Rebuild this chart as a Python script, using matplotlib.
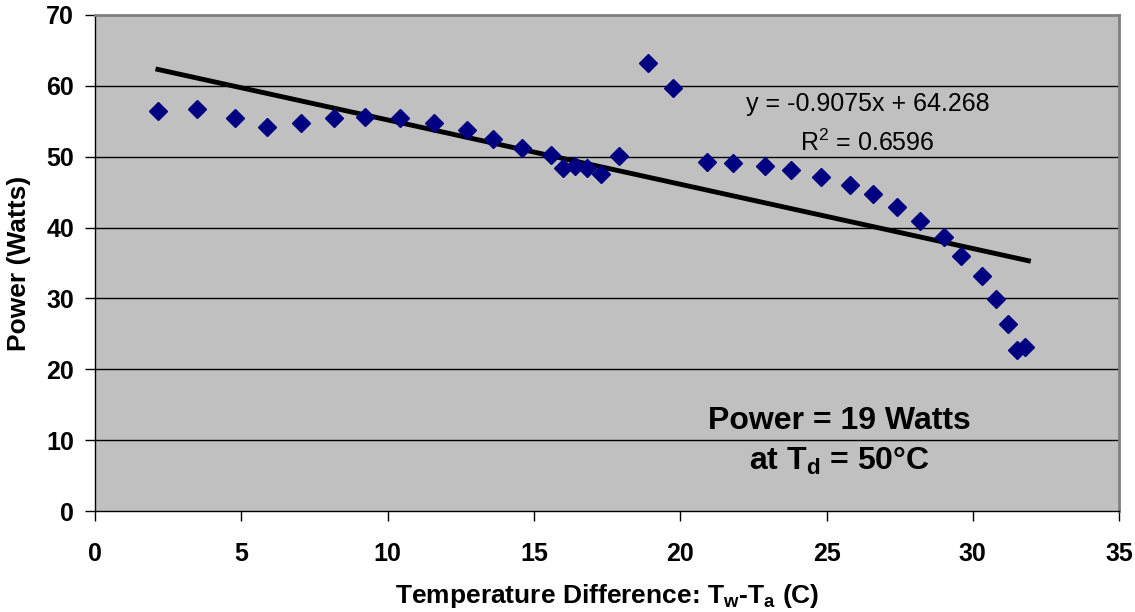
import matplotlib.pyplot as plt
import numpy as np

plt.rcParams['font.family'] = ['Liberation Sans', 'DejaVu Sans']
plt.rcParams['mathtext.fontset'] = 'custom'
plt.rcParams['mathtext.rm'] = 'Liberation Sans'
plt.rcParams['mathtext.bf'] = 'Liberation Sans:bold'
plt.rcParams['mathtext.it'] = 'Liberation Sans:italic'

# measured points
temp_diff = [2.15, 3.48, 4.78, 5.88, 7.04, 8.17, 9.22, 10.42, 11.6, 12.7, 13.6, 14.6,
             15.6, 16.0, 16.4, 16.8, 17.3, 17.9, 18.9, 19.75, 20.9, 21.8, 22.9, 23.8,
             24.8, 25.8, 26.6, 27.4, 28.2, 29.0, 29.6, 30.3, 30.8, 31.2, 31.5, 31.8]
power = [56.4, 56.8, 55.4, 54.2, 54.7, 55.4, 55.6, 55.4, 54.7, 53.7, 52.5, 51.3,
         50.2, 48.4, 48.7, 48.4, 47.5, 50.1, 63.2, 59.7, 49.2, 49.1, 48.7, 48.1,
         47.1, 46.0, 44.7, 42.9, 40.9, 38.6, 36.0, 33.1, 29.9, 26.4, 22.7, 23.1]

# linear trendline as given on the chart
slope = -0.9075
intercept = 64.268
r2 = 0.6596

x_ticks = [0, 5, 10, 15, 20, 25, 30, 35]
y_ticks = [0, 10, 20, 30, 40, 50, 60, 70]

fig = plt.figure(figsize=(11.35, 6.12), dpi=100)
ax = fig.add_axes([0.0837, 0.165, 0.9023, 0.8105])
ax.set_facecolor('#C0C0C0')

for yv in y_ticks[1:-1]:
    ax.axhline(yv, color='black', lw=1.0, zorder=1)

xt = np.array([temp_diff[0], temp_diff[-1] + 0.1])
ax.plot(xt, slope * xt + intercept, color='black', lw=3.5, zorder=2)
ax.plot(temp_diff, power, 'D', color='#000080', ms=9, mec='#000080', zorder=3)

ax.set_xlim(0, 35)
ax.set_ylim(0, 70)
ax.set_xticks(x_ticks)
ax.set_yticks(y_ticks)
ax.tick_params(direction='out', length=7, width=1, labelsize=18)
ax.tick_params(axis='x', pad=15)
ax.tick_params(axis='y', pad=8)
for lab in ax.get_xticklabels() + ax.get_yticklabels():
    lab.set_fontweight('bold')

for side in ['top', 'right']:
    ax.spines[side].set_color('#808080')
    ax.spines[side].set_linewidth(2)
for side in ['left', 'bottom']:
    ax.spines[side].set_color('black')
    ax.spines[side].set_linewidth(1)

ax.set_xlabel('Temperature Difference: T$_\\mathbf{w}$-T$_\\mathbf{a}$ (C)', fontsize=19,
              fontweight='bold', labelpad=12)
ax.set_ylabel('Power (Watts)', fontsize=19, fontweight='bold', labelpad=11)

ax.text(26.4, 57.5, f'y = {slope}x + {intercept}', fontsize=18, ha='center', va='center')
ax.text(26.4, 52.0, f'R$^2$ = {r2}', fontsize=18, ha='center', va='center')
ax.text(25.45, 12.7, 'Power = 19 Watts', fontsize=23, fontweight='bold', ha='center', va='center')
ax.text(25.45, 7.0, 'at T$_\\mathbf{d}$ = 50°C', fontsize=23, fontweight='bold', ha='center', va='center')

fig.savefig('out.png', dpi=100)
